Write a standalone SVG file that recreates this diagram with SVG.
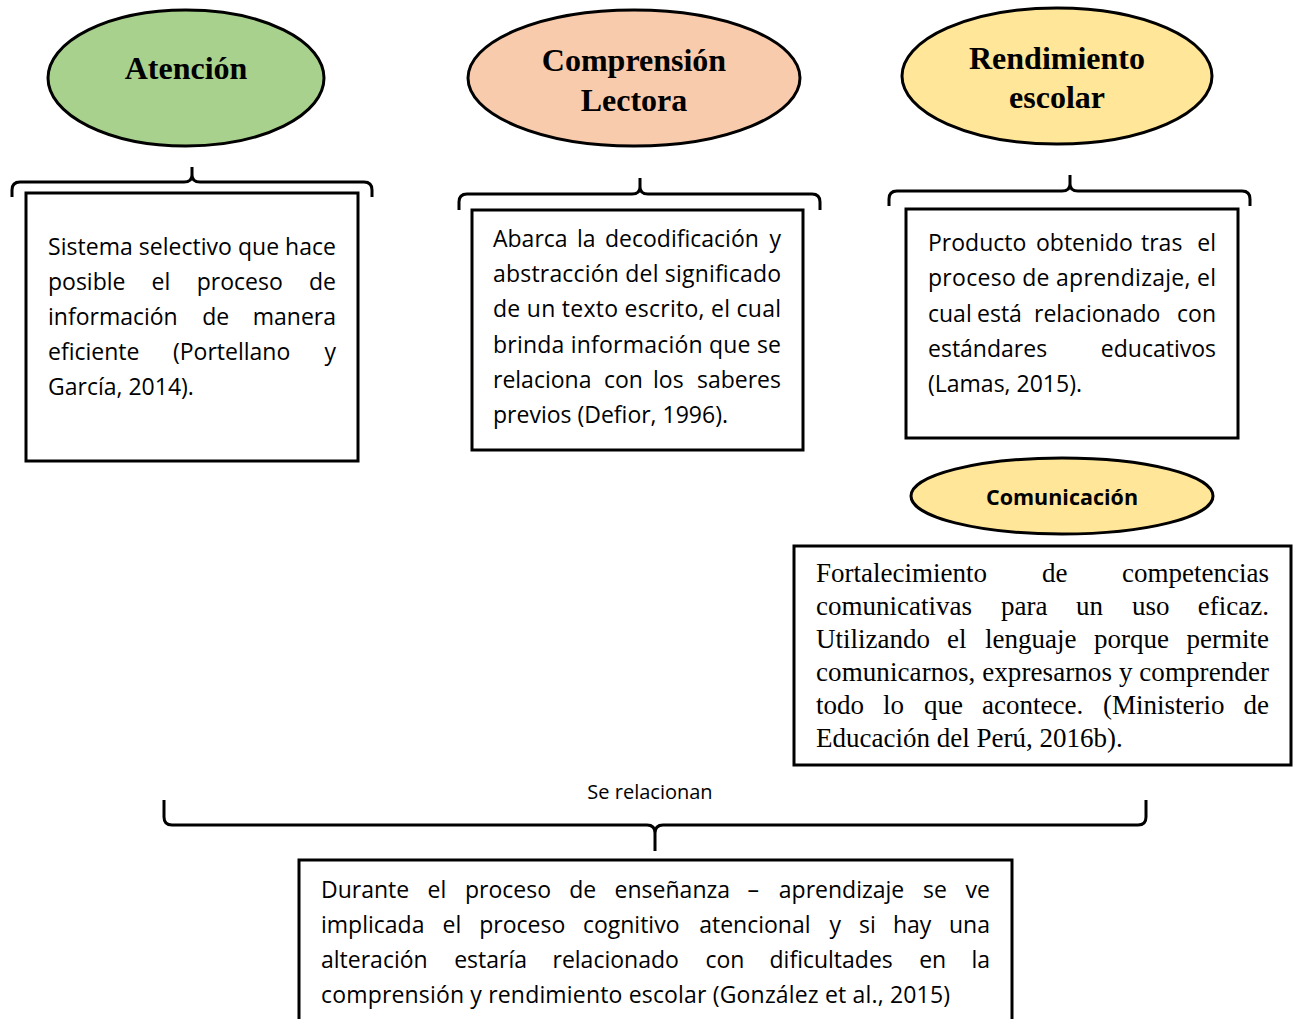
<svg xmlns="http://www.w3.org/2000/svg" width="1298" height="1019" viewBox="0 0 1298 1019">
<style>
.ell{stroke:#000;stroke-width:3}
.box{fill:#fff;stroke:#000;stroke-width:3}
.brace{fill:none;stroke:#000;stroke-width:3;stroke-linejoin:round;stroke-linecap:butt}
.title{font-family:"Liberation Serif","Times New Roman",serif;font-weight:bold;font-size:32px;fill:#000;text-anchor:middle}
.cal{font-family:"Open Sans","Noto Sans",sans-serif;font-size:23px;fill:#000}
.tnr{font-family:"Liberation Serif","Times New Roman",serif;font-size:27px;fill:#000}
.end{text-anchor:end}
.sub{font-family:"Open Sans","Noto Sans",sans-serif;font-weight:bold;font-size:21.5px;fill:#000;text-anchor:middle}
.lbl{font-family:"Open Sans","Noto Sans",sans-serif;font-size:20px;fill:#000;text-anchor:middle}
</style>
<rect width="1298" height="1019" fill="#fff"/>

<g id="connectors">
<path class="brace" d="M12,197 L12,190 Q12,182 20,182 L184,182 Q192,182 192,175 L192,167 M192,175 Q192,182 200,182 L364,182 Q372,182 372,190 L372,197"/>
<path class="brace" d="M459,210 L459,202 Q459,194 467,194 L632,194 Q640,194 640,187 L640,178 M640,187 Q640,194 648,194 L812,194 Q820,194 820,202 L820,210"/>
<path class="brace" d="M889,206 L889,199 Q889,191 897,191 L1062,191 Q1070,191 1070,184 L1070,175 M1070,184 Q1070,191 1078,191 L1242,191 Q1250,191 1250,199 L1250,206"/>
<path class="brace" d="M164,800 L164,817 Q164,825 172,825 L647,825 Q655,825 655,833 L655,851 M655,833 Q655,825 663,825 L1138,825 Q1146,825 1146,817 L1146,800"/>
<text class="lbl" x="650" y="799">Se relacionan</text>
</g>

<g id="atencion">
<ellipse class="ell" cx="186" cy="78" rx="138" ry="68" fill="#A9D18E"/>
<text class="title" x="186" y="79">Atención</text>
</g>

<g id="comprension">
<ellipse class="ell" cx="634" cy="78" rx="166" ry="68" fill="#F8CBAD"/>
<text class="title" x="634" y="71">Comprensión</text>
<text class="title" x="634" y="111">Lectora</text>
</g>

<g id="rendimiento">
<ellipse class="ell" cx="1057" cy="76" rx="155" ry="68" fill="#FFE699"/>
<text class="title" x="1057" y="69">Rendimiento</text>
<text class="title" x="1057" y="108">escolar</text>
</g>

<g id="box-atencion">
<rect class="box" x="26" y="193" width="332" height="268"/>
<text class="cal" x="48" y="255" textLength="288" lengthAdjust="spacing">Sistema selectivo que hace</text>
<text class="cal" y="290"><tspan x="48">posible</tspan><tspan x="151.6">el</tspan><tspan x="196.7">proceso</tspan></text>
<text class="cal end" x="336" y="290">de</text>
<text class="cal" y="325"><tspan x="48">información</tspan><tspan x="202.2">de</tspan></text>
<text class="cal end" x="336" y="325">manera</text>
<text class="cal" y="360"><tspan x="48">eficiente</tspan><tspan x="173">(Portellano</tspan></text>
<text class="cal end" x="336" y="360">y</text>
<text class="cal" x="48" y="395">García, 2014).</text>
</g>

<g id="box-comprension">
<rect class="box" x="472" y="210" width="331" height="240"/>
<text class="cal" y="247"><tspan x="493">Abarca</tspan><tspan x="577">la</tspan><tspan x="605">decodificación</tspan></text>
<text class="cal end" x="781" y="247">y</text>
<text class="cal" x="493" y="282" textLength="288" lengthAdjust="spacing">abstracción del significado</text>
<text class="cal" x="493" y="317" textLength="288" lengthAdjust="spacing">de un texto escrito, el cual</text>
<text class="cal" x="493" y="353" textLength="288" lengthAdjust="spacing">brinda información que se</text>
<text class="cal" y="388"><tspan x="493">relaciona</tspan><tspan x="604">con</tspan><tspan x="653">los</tspan></text>
<text class="cal end" x="781" y="388">saberes</text>
<text class="cal" x="493" y="423">previos (Defior, 1996).</text>
</g>

<g id="box-rendimiento">
<rect class="box" x="906" y="209" width="332" height="229"/>
<text class="cal" y="251"><tspan x="928">Producto</tspan><tspan x="1036">obtenido</tspan><tspan x="1141">tras</tspan></text>
<text class="cal end" x="1216" y="251">el</text>
<text class="cal" x="928" y="286" textLength="288" lengthAdjust="spacing">proceso de aprendizaje, el</text>
<text class="cal" y="322"><tspan x="928">cual</tspan><tspan x="977">está</tspan><tspan x="1034">relacionado</tspan></text>
<text class="cal end" x="1216" y="322">con</text>
<text class="cal" x="928" y="357">estándares</text>
<text class="cal end" x="1216" y="357">educativos</text>
<text class="cal" x="928" y="392">(Lamas, 2015).</text>
</g>

<g id="comunicacion">
<ellipse class="ell" cx="1062" cy="496" rx="151" ry="38" fill="#FFE699"/>
<text class="sub" x="1062" y="505">Comunicación</text>
</g>

<g id="box-comunicacion">
<rect class="box" x="794" y="546" width="497" height="219"/>
<text class="tnr" y="582"><tspan x="816">Fortalecimiento</tspan><tspan x="1042">de</tspan></text>
<text class="tnr end" x="1269" y="582">competencias</text>
<text class="tnr" y="615"><tspan x="816">comunicativas</tspan><tspan x="1001">para</tspan><tspan x="1076">un</tspan><tspan x="1132">uso</tspan></text>
<text class="tnr end" x="1269" y="615">eficaz.</text>
<text class="tnr" y="648"><tspan x="816">Utilizando</tspan><tspan x="947">el</tspan><tspan x="985">lenguaje</tspan><tspan x="1094">porque</tspan></text>
<text class="tnr end" x="1269" y="648">permite</text>
<text class="tnr" x="816" y="681" textLength="453" lengthAdjust="spacing">comunicarnos, expresarnos y comprender</text>
<text class="tnr" y="714"><tspan x="816">todo</tspan><tspan x="883">lo</tspan><tspan x="924">que</tspan><tspan x="982">acontece.</tspan><tspan x="1103">(Ministerio</tspan></text>
<text class="tnr end" x="1269" y="714">de</text>
<text class="tnr" x="816" y="747">Educación del Perú, 2016b).</text>
</g>

<g id="box-relacion">
<rect class="box" x="299" y="860" width="713" height="170"/>
<text class="cal" y="898"><tspan x="321">Durante</tspan><tspan x="427.6">el</tspan><tspan x="465">proceso</tspan><tspan x="569.3">de</tspan><tspan x="614.6">enseñanza</tspan><tspan x="747.5">–</tspan><tspan x="778.8">aprendizaje</tspan><tspan x="923">se</tspan></text>
<text class="cal end" x="990" y="898">ve</text>
<text class="cal" y="933"><tspan x="321">implicada</tspan><tspan x="442.6">el</tspan><tspan x="479.3">proceso</tspan><tspan x="582.9">cognitivo</tspan><tspan x="699.2">atencional</tspan><tspan x="829.6">y</tspan><tspan x="859">si</tspan><tspan x="892.9">hay</tspan></text>
<text class="cal end" x="990" y="933">una</text>
<text class="cal" y="968"><tspan x="321">alteración</tspan><tspan x="454.2">estaría</tspan><tspan x="552.5">relacionado</tspan><tspan x="705.4">con</tspan><tspan x="769.5">dificultades</tspan><tspan x="919.2">en</tspan></text>
<text class="cal end" x="990" y="968">la</text>
<text class="cal" x="321" y="1003" textLength="629" lengthAdjust="spacing">comprensión y rendimiento escolar (González et al., 2015)</text>
</g>
</svg>
